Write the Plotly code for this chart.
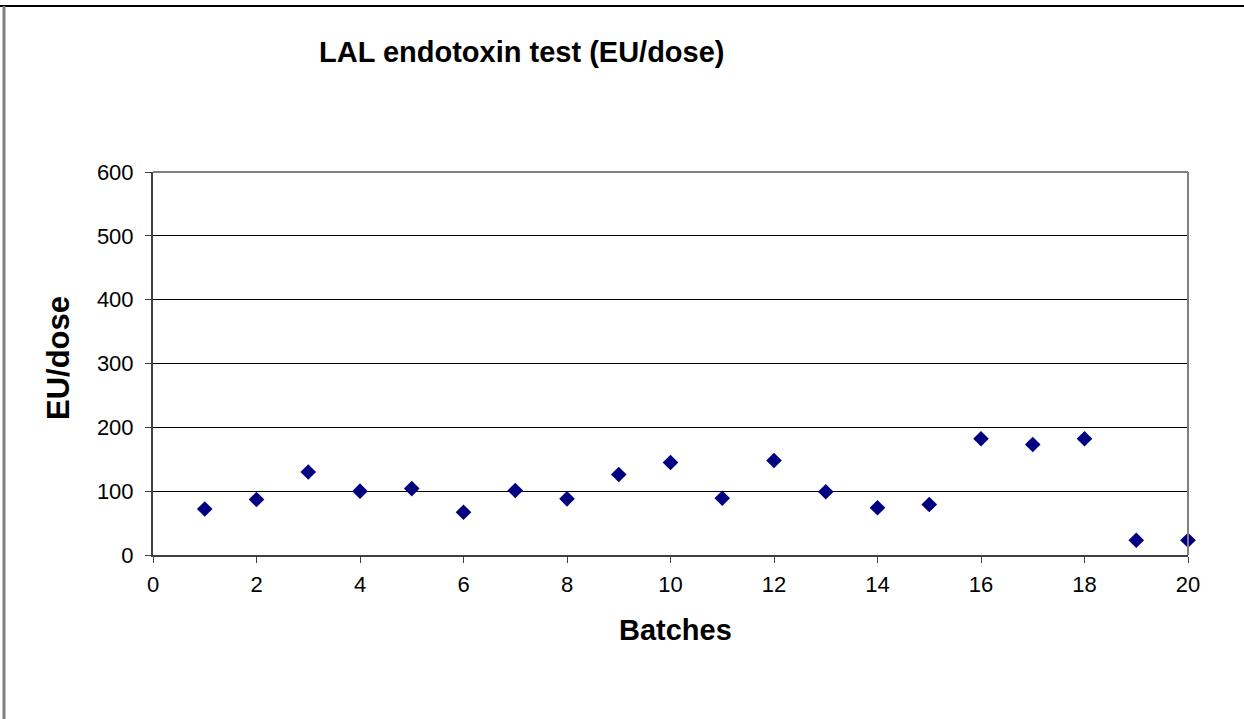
import plotly.graph_objects as go

batches = list(range(1, 21))
eu_per_dose = [72, 87, 130, 100, 104, 67, 101, 88, 126, 145,
               89, 148, 99, 74, 79, 182, 173, 182, 23, 23]

W, H = 1244, 719
L, R, T, B = 153, 1188, 172, 555

def px(x):
    return (x - L) / (R - L)

def py(y):
    return (B - y) / (B - T)

fig = go.Figure()
fig.add_trace(go.Scatter(
    x=batches, y=eu_per_dose, mode="markers",
    marker=dict(symbol="diamond", size=12, color="#000080"),
    cliponaxis=False, showlegend=False,
))

font = "Arial, Liberation Sans, sans-serif"
fig.update_layout(
    width=W, height=H,
    margin=dict(l=L, r=W - R, t=T, b=H - B),
    paper_bgcolor="white", plot_bgcolor="white",
    font=dict(family=font, color="black"),
    xaxis=dict(range=[0, 20], dtick=2, tick0=0, showgrid=False, zeroline=False,
               showline=True, linecolor="#404040", linewidth=2,
               ticks="outside", ticklen=6, tickcolor="#404040", tickwidth=1,
               ticklabelstandoff=3,
               tickfont=dict(size=22, family=font)),
    yaxis=dict(range=[0, 600], dtick=100, tick0=0, showgrid=True,
               gridcolor="black", gridwidth=1, zeroline=False,
               showline=True, linecolor="#404040", linewidth=2,
               ticks="outside", ticklen=6, tickcolor="#404040", tickwidth=1,
               ticklabelstandoff=7,
               tickfont=dict(size=22, family=font)),
    annotations=[
        dict(text="<b>LAL endotoxin test (EU/dose)</b>", xref="paper", yref="paper",
             x=px(521), y=py(52), xanchor="center", yanchor="middle",
             showarrow=False, font=dict(size=29, family=font)),
        dict(text="<b>Batches</b>", xref="paper", yref="paper",
             x=px(675), y=py(630), xanchor="center", yanchor="middle",
             showarrow=False, font=dict(size=29, family=font)),
        dict(text="<b>EU/dose</b>", xref="paper", yref="paper",
             x=px(58), y=py(358), xanchor="center", yanchor="middle",
             textangle=-90, showarrow=False, font=dict(size=31, family=font)),
    ],
    shapes=[
        # plot area top and right border (gray)
        dict(type="line", xref="paper", yref="paper", x0=0, x1=1, y0=1, y1=1,
             line=dict(color="#808080", width=2)),
        dict(type="line", xref="paper", yref="paper", x0=1, x1=1, y0=0, y1=1,
             line=dict(color="#808080", width=2)),
        # outer chart frame
        dict(type="line", xref="paper", yref="paper", x0=px(0), x1=px(W), y0=py(6), y1=py(6),
             line=dict(color="black", width=2)),
        dict(type="line", xref="paper", yref="paper", x0=px(4), x1=px(4), y0=py(6), y1=py(H + 2),
             line=dict(color="#808080", width=3)),
    ],
)

fig.write_html("out.html")
